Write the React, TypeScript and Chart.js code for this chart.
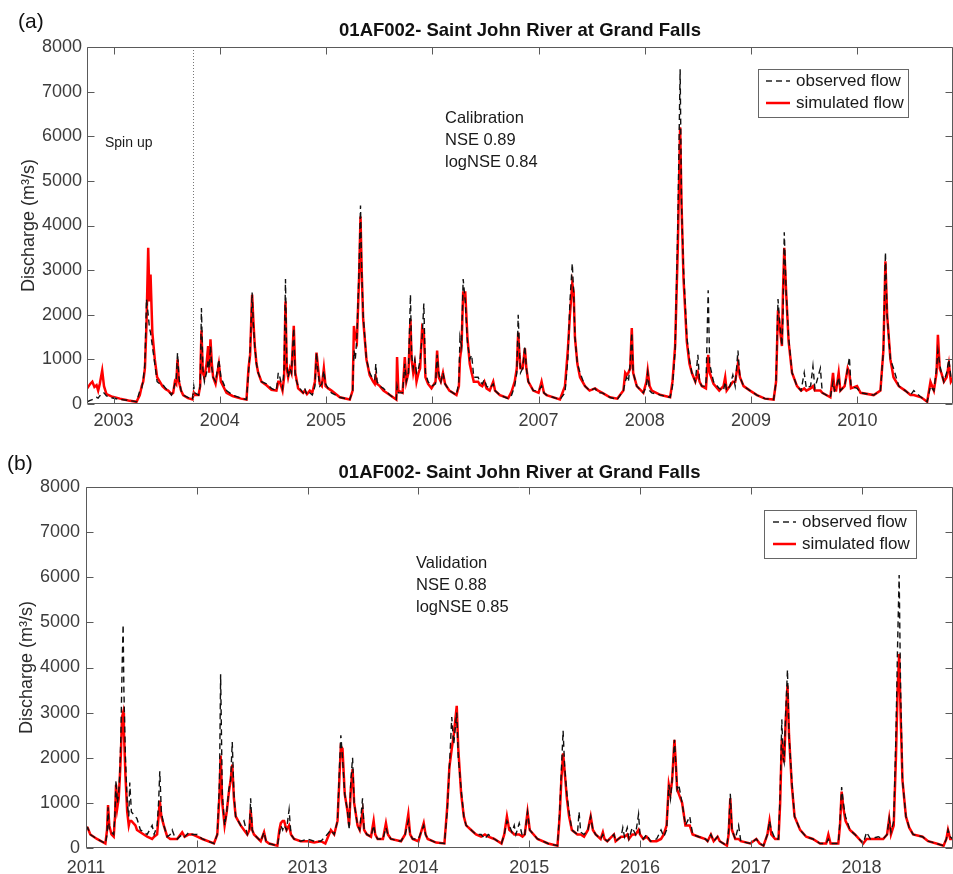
import React, { useEffect, useRef } from 'react';
import { Chart, registerables } from 'chart.js';

Chart.register(...registerables);

const FONT = "'Liberation Sans', Arial, Helvetica, sans-serif";
const AXIS_COLOR = '#5a5a5a';
const TICK_TEXT = '#3c3c3c';

// ---------------- (a) calibration period ----------------
const T_CAL = [
  2002.752, 2002.78, 2002.80, 2002.82, 2002.84, 2002.855, 2002.87, 2002.893, 2002.91, 2002.933,
  2002.98, 2003.06, 2003.14, 2003.216, 2003.247, 2003.265, 2003.279, 2003.295, 2003.31, 2003.326,
  2003.338, 2003.348, 2003.365, 2003.388, 2003.41, 2003.435, 2003.46, 2003.49, 2003.514, 2003.545,
  2003.561, 2003.577, 2003.59, 2003.602, 2003.615, 2003.635, 2003.655, 2003.70, 2003.743, 2003.755,
  2003.765, 2003.80, 2003.815, 2003.827, 2003.84, 2003.855, 2003.875, 2003.89, 2003.90, 2003.912,
  2003.925, 2003.937, 2003.96, 2003.991, 2004.01, 2004.063, 2004.12, 2004.20, 2004.251, 2004.27,
  2004.285, 2004.304, 2004.315, 2004.329, 2004.345, 2004.361, 2004.392, 2004.439, 2004.486, 2004.533,
  2004.55, 2004.565, 2004.59, 2004.605, 2004.618, 2004.63, 2004.643, 2004.66, 2004.674, 2004.696,
  2004.71, 2004.737, 2004.784, 2004.80, 2004.82, 2004.847, 2004.87, 2004.895, 2004.91, 2004.925,
  2004.941, 2004.96, 2004.979, 2004.995, 2005.02, 2005.051, 2005.129, 2005.223, 2005.25, 2005.262,
  2005.275, 2005.29, 2005.31, 2005.324, 2005.335, 2005.349, 2005.38, 2005.41, 2005.443, 2005.458,
  2005.468, 2005.48, 2005.506, 2005.54, 2005.60, 2005.661, 2005.668, 2005.68, 2005.72, 2005.741,
  2005.755, 2005.775, 2005.794, 2005.805, 2005.82, 2005.835, 2005.851, 2005.87, 2005.885, 2005.904,
  2005.92, 2005.935, 2005.96, 2005.992, 2006.03, 2006.045, 2006.06, 2006.08, 2006.10, 2006.12,
  2006.16, 2006.227, 2006.25, 2006.26, 2006.275, 2006.29, 2006.31, 2006.33, 2006.352, 2006.37,
  2006.39, 2006.431, 2006.447, 2006.47, 2006.49, 2006.51, 2006.54, 2006.573, 2006.59, 2006.636,
  2006.714, 2006.746, 2006.775, 2006.795, 2006.808, 2006.82, 2006.83, 2006.85, 2006.871, 2006.885,
  2006.903, 2006.95, 2007.00, 2007.028, 2007.05, 2007.075, 2007.201, 2007.248, 2007.275, 2007.295,
  2007.317, 2007.33, 2007.342, 2007.365, 2007.39, 2007.437, 2007.48, 2007.531, 2007.56, 2007.60,
  2007.672, 2007.74, 2007.798, 2007.815, 2007.829, 2007.845, 2007.862, 2007.877, 2007.89, 2007.924,
  2007.986, 2008.015, 2008.027, 2008.045, 2008.065, 2008.15, 2008.238, 2008.26, 2008.285, 2008.31,
  2008.332, 2008.345, 2008.364, 2008.395, 2008.42, 2008.442, 2008.475, 2008.499, 2008.515, 2008.536,
  2008.575, 2008.596, 2008.61, 2008.646, 2008.70, 2008.74, 2008.756, 2008.77, 2008.80, 2008.828,
  2008.85, 2008.876, 2008.895, 2008.929, 2008.99, 2009.055, 2009.13, 2009.212, 2009.235, 2009.253,
  2009.27, 2009.29, 2009.30, 2009.312, 2009.33, 2009.353, 2009.385, 2009.432, 2009.47, 2009.50,
  2009.52, 2009.56, 2009.582, 2009.60, 2009.652, 2009.67, 2009.746, 2009.771, 2009.785, 2009.80,
  2009.824, 2009.84, 2009.88, 2009.909, 2009.925, 2009.94, 2009.997, 2010.03, 2010.154, 2010.217,
  2010.245, 2010.264, 2010.28, 2010.311, 2010.34, 2010.39, 2010.45, 2010.50, 2010.531, 2010.60,
  2010.657, 2010.688, 2010.72, 2010.745, 2010.758, 2010.775, 2010.79, 2010.814, 2010.84, 2010.861,
  2010.88, 2010.905,
];
const OBS_CAL = [
  50, 80, 100, 120, 150, 130, 180, 250, 250, 180,
  140, 100, 80, 50, 300, 350, 550, 900, 2350, 2000,
  1700, 1600, 1300, 900, 500, 450, 450, 350, 300, 200,
  300, 450, 550, 1150, 600, 300, 200, 150, 100, 400,
  250, 200, 400, 2150, 800, 500, 700, 1000, 800, 1300,
  800, 600, 500, 1000, 600, 300, 200, 130, 100, 700,
  1200, 2500, 1800, 1300, 900, 700, 500, 450, 350, 300,
  700, 600, 350, 800, 2800, 900, 600, 800, 700, 1700,
  600, 400, 250, 350, 200, 250, 200, 400, 1150, 700,
  400, 450, 750, 450, 350, 250, 150, 100, 300, 1200,
  1000, 1500, 3000, 4450, 3000, 2000, 1000, 700, 550, 550,
  900, 500, 400, 350, 200, 100, 400, 250, 250, 900,
  500, 700, 2450, 1100, 800, 1000, 700, 800, 1000, 1500,
  2250, 700, 500, 400, 450, 1100, 700, 500, 700, 450,
  300, 200, 500, 1500, 1300, 2800, 2300, 1400, 1000, 1100,
  600, 600, 500, 450, 550, 400, 350, 450, 300, 200,
  120, 200, 400, 700, 2000, 1200, 700, 800, 1300, 800,
  500, 300, 300, 400, 250, 200, 100, 250, 1000, 2300,
  3150, 2500, 1500, 900, 700, 400, 300, 350, 250, 250,
  150, 100, 300, 500, 600, 500, 900, 1600, 700, 400,
  250, 400, 700, 300, 250, 200, 150, 400, 1200, 4000,
  7500, 4500, 3000, 1500, 1000, 700, 500, 1100, 500, 400,
  400, 2550, 900, 500, 350, 300, 500, 300, 400, 650,
  400, 1200, 600, 400, 300, 200, 120, 100, 500, 2350,
  1800, 1300, 2000, 3850, 2500, 1500, 700, 400, 300, 700,
  350, 400, 850, 350, 800, 250, 150, 500, 300, 350,
  600, 300, 400, 800, 1050, 400, 350, 250, 200, 300,
  1200, 3400, 2000, 1000, 800, 400, 300, 200, 300, 150,
  50, 400, 300, 800, 1200, 900, 700, 500, 700, 1000,
  600, 600,
];
const SIM_CAL = [
  350, 450, 500, 380, 420, 300, 450, 750, 400, 220,
  170, 120, 80, 50, 200, 400, 500, 800, 1800, 3500,
  2300, 2900, 1600, 1000, 600, 500, 400, 330, 300, 220,
  250, 500, 450, 1000, 500, 300, 200, 130, 100, 250,
  200, 200, 400, 1650, 700, 600, 900, 1300, 700, 1450,
  900, 600, 450, 900, 500, 250, 180, 120, 100, 800,
  1100, 2450, 1900, 1300, 900, 700, 500, 420, 320, 300,
  500, 500, 300, 600, 2300, 800, 600, 800, 700, 1750,
  700, 350, 250, 300, 220, 300, 250, 500, 1150, 800,
  450, 400, 800, 400, 350, 300, 150, 100, 300, 1750,
  1500, 1400, 2800, 4200, 3000, 1900, 1000, 650, 500, 450,
  600, 450, 400, 300, 200, 100, 1050, 300, 250, 1050,
  500, 700, 1900, 1000, 700, 900, 500, 700, 800, 1700,
  1600, 600, 450, 350, 500, 1200, 600, 500, 700, 450,
  300, 200, 400, 1000, 1300, 2500, 2500, 1500, 900, 700,
  500, 500, 430, 400, 500, 350, 300, 500, 300, 200,
  130, 280, 500, 800, 1600, 1100, 800, 800, 1250, 800,
  500, 300, 250, 500, 250, 200, 100, 400, 1200, 2000,
  2700, 2500, 1500, 900, 600, 400, 300, 350, 300, 250,
  150, 120, 300, 700, 650, 700, 800, 1700, 700, 400,
  250, 500, 750, 400, 300, 200, 150, 500, 1300, 3500,
  6200, 4500, 2800, 1400, 900, 700, 500, 700, 500, 400,
  350, 1100, 700, 450, 300, 400, 600, 300, 400, 500,
  500, 900, 600, 400, 300, 200, 120, 100, 500, 2100,
  1700, 1300, 2500, 3500, 2500, 1400, 700, 400, 300, 350,
  300, 350, 400, 300, 300, 250, 150, 700, 300, 300,
  700, 300, 400, 800, 700, 350, 400, 250, 200, 300,
  1200, 3200, 2000, 1000, 600, 400, 300, 200, 200, 150,
  50, 500, 300, 700, 1550, 800, 700, 500, 600, 900,
  500, 600,
];

// ---------------- (b) validation period ----------------
const T_VAL = [
  2011.000, 2011.015, 2011.039, 2011.099, 2011.175, 2011.19, 2011.199, 2011.21, 2011.230, 2011.250,
  2011.262, 2011.271, 2011.283, 2011.295, 2011.304, 2011.315, 2011.325, 2011.335, 2011.342, 2011.356,
  2011.372, 2011.386, 2011.395, 2011.41, 2011.446, 2011.46, 2011.491, 2011.552, 2011.597, 2011.615,
  2011.642, 2011.655, 2011.666, 2011.68, 2011.702, 2011.733, 2011.760, 2011.778, 2011.80, 2011.823,
  2011.868, 2011.89, 2011.929, 2011.96, 2012.004, 2012.05, 2012.155, 2012.185, 2012.205, 2012.215,
  2012.23, 2012.251, 2012.27, 2012.290, 2012.305, 2012.320, 2012.335, 2012.351, 2012.396, 2012.426,
  2012.456, 2012.475, 2012.486, 2012.50, 2012.516, 2012.577, 2012.607, 2012.625, 2012.652, 2012.727,
  2012.745, 2012.758, 2012.775, 2012.788, 2012.81, 2012.833, 2012.85, 2012.878, 2012.938, 2013.00,
  2013.06, 2013.119, 2013.16, 2013.210, 2013.240, 2013.27, 2013.288, 2013.300, 2013.315, 2013.335,
  2013.361, 2013.375, 2013.39, 2013.406, 2013.42, 2013.451, 2013.47, 2013.496, 2013.51, 2013.535,
  2013.572, 2013.596, 2013.61, 2013.632, 2013.68, 2013.707, 2013.725, 2013.752, 2013.843, 2013.88,
  2013.909, 2013.925, 2013.948, 2014.00, 2014.048, 2014.065, 2014.084, 2014.16, 2014.235, 2014.26,
  2014.280, 2014.301, 2014.319, 2014.346, 2014.36, 2014.386, 2014.41, 2014.431, 2014.476, 2014.52,
  2014.566, 2014.60, 2014.63, 2014.685, 2014.75, 2014.775, 2014.799, 2014.82, 2014.845, 2014.865,
  2014.88, 2014.910, 2014.94, 2014.96, 2014.985, 2015.005, 2015.04, 2015.075, 2015.17, 2015.255,
  2015.275, 2015.290, 2015.306, 2015.32, 2015.340, 2015.360, 2015.385, 2015.435, 2015.450, 2015.465,
  2015.495, 2015.53, 2015.555, 2015.575, 2015.60, 2015.645, 2015.665, 2015.68, 2015.705, 2015.765,
  2015.78, 2015.83, 2015.845, 2015.86, 2015.885, 2015.90, 2015.93, 2015.96, 2015.987, 2016.00,
  2016.03, 2016.06, 2016.095, 2016.15, 2016.19, 2016.215, 2016.24, 2016.260, 2016.275, 2016.290,
  2016.311, 2016.325, 2016.335, 2016.35, 2016.380, 2016.41, 2016.449, 2016.475, 2016.530, 2016.59,
  2016.61, 2016.64, 2016.665, 2016.70, 2016.72, 2016.785, 2016.800, 2016.815, 2016.83, 2016.86,
  2016.890, 2016.91, 2016.995, 2017.05, 2017.08, 2017.115, 2017.150, 2017.169, 2017.185, 2017.22,
  2017.250, 2017.265, 2017.280, 2017.292, 2017.301, 2017.315, 2017.331, 2017.345, 2017.370, 2017.395,
  2017.445, 2017.50, 2017.56, 2017.625, 2017.68, 2017.700, 2017.72, 2017.790, 2017.805, 2017.820,
  2017.835, 2017.855, 2017.895, 2017.94, 2018.015, 2018.045, 2018.08, 2018.15, 2018.195, 2018.23,
  2018.249, 2018.265, 2018.29, 2018.31, 2018.325, 2018.339, 2018.352, 2018.369, 2018.40, 2018.43,
  2018.465, 2018.55, 2018.60, 2018.675, 2018.74, 2018.765, 2018.780, 2018.80, 2018.822,
];
const OBS_VAL = [
  400, 450, 300, 200, 100, 300, 900, 400, 350, 300,
  800, 1500, 1000, 1200, 1600, 2500, 3900, 4950, 3500, 2000,
  1000, 700, 1450, 800, 700, 650, 400, 300, 500, 300,
  500, 1000, 1700, 800, 500, 250, 300, 400, 250, 200,
  300, 250, 350, 300, 300, 200, 100, 300, 1500, 3850,
  1200, 500, 800, 1300, 1500, 2350, 1200, 700, 500, 600,
  300, 400, 1100, 400, 300, 150, 350, 150, 100, 50,
  300, 500, 400, 500, 400, 850, 300, 200, 150, 200,
  150, 150, 250, 400, 300, 600, 1800, 2500, 2000, 1200,
  800, 400, 1500, 2000, 1000, 500, 400, 1100, 400, 300,
  250, 500, 300, 200, 200, 450, 300, 200, 150, 300,
  600, 300, 200, 200, 500, 300, 200, 120, 100, 800,
  1800, 2900, 2300, 3000, 2000, 1300, 700, 500, 400, 300,
  300, 200, 300, 200, 100, 300, 600, 500, 350, 500,
  300, 550, 250, 300, 800, 400, 300, 200, 100, 50,
  800, 1700, 2600, 1800, 1200, 800, 400, 300, 800, 350,
  300, 400, 700, 400, 300, 200, 300, 200, 150, 300,
  150, 250, 450, 250, 450, 200, 450, 300, 750, 300,
  200, 300, 150, 200, 400, 250, 400, 1400, 1100, 1500,
  2400, 1800, 1300, 1400, 1000, 500, 700, 300, 250, 200,
  150, 300, 150, 250, 150, 50, 400, 1200, 400, 200,
  500, 150, 100, 200, 100, 50, 300, 600, 400, 200,
  200, 1200, 2850, 2000, 1900, 3000, 3950, 2500, 1500, 700,
  400, 250, 200, 100, 100, 200, 100, 100, 600, 1350,
  1000, 700, 400, 300, 100, 350, 200, 250, 200, 300,
  650, 350, 600, 2500, 4500, 6050, 3500, 1500, 700, 450,
  300, 250, 150, 100, 50, 200, 400, 250, 200,
];
const SIM_VAL = [
  450, 450, 300, 200, 100, 400, 950, 500, 300, 250,
  700, 1400, 900, 1100, 1500, 2100, 2900, 3000, 2600, 1600,
  800, 500, 600, 600, 500, 400, 350, 250, 200, 250,
  300, 700, 1050, 700, 500, 250, 200, 200, 200, 200,
  350, 250, 300, 300, 250, 200, 100, 300, 1200, 2050,
  1000, 500, 800, 1250, 1500, 1850, 1100, 700, 500, 400,
  300, 400, 850, 400, 300, 150, 350, 150, 100, 50,
  400, 550, 600, 600, 400, 500, 300, 200, 150, 150,
  120, 150, 100, 400, 300, 600, 1600, 2250, 2200, 1200,
  800, 500, 1300, 1750, 1000, 500, 400, 800, 400, 300,
  250, 600, 300, 200, 200, 550, 300, 200, 150, 300,
  750, 300, 200, 150, 550, 300, 200, 120, 100, 900,
  1800, 2200, 2500, 3150, 2200, 1200, 700, 500, 400, 300,
  250, 300, 250, 200, 100, 300, 700, 400, 350, 300,
  300, 300, 250, 300, 800, 400, 300, 200, 100, 50,
  700, 1500, 2100, 1700, 1100, 700, 400, 300, 300, 300,
  250, 400, 700, 400, 300, 200, 350, 200, 150, 300,
  150, 250, 250, 250, 300, 200, 300, 300, 400, 300,
  200, 250, 150, 150, 200, 300, 500, 1400, 1200, 1500,
  2400, 1800, 1300, 1200, 1000, 500, 500, 300, 250, 200,
  150, 300, 150, 250, 150, 50, 300, 1100, 400, 200,
  200, 150, 100, 200, 100, 50, 300, 600, 300, 200,
  200, 1000, 2400, 2100, 1900, 2800, 3600, 2500, 1400, 700,
  400, 250, 200, 100, 100, 300, 100, 100, 500, 1250,
  900, 600, 400, 300, 100, 200, 200, 200, 200, 300,
  650, 300, 500, 2000, 3500, 4300, 3000, 1500, 700, 450,
  300, 250, 150, 100, 50, 200, 400, 200, 200,
];

// ---------------- axes ----------------
const YEARS_CAL = [2003, 2004, 2005, 2006, 2007, 2008, 2009, 2010];
const YEARS_VAL = [2011, 2012, 2013, 2014, 2015, 2016, 2017, 2018];
const Y_TICKS = [0, 1000, 2000, 3000, 4000, 5000, 6000, 7000, 8000];
const SPIN_UP_END = 2003.75;

const TITLE = '01AF002- Saint John River at Grand Falls';
const LEGEND_LABELS = ['observed flow', 'simulated flow'];
const Y_LABEL = 'Discharge (m³/s)';

type PanelSpec = {
  tag: string;
  tagX: number;
  tagY: number;
  titleY: number;
  t: number[];
  obs: number[];
  sim: number[];
  years: number[];
  xMin: number;
  xMax: number;
  padTop: number;
  yAxisWidth: number;
  xAxisHeight: number;
  xTickPad: number;
  yTickPad: number;
  yTitlePad: number;
  stats: string[];
  statsX: number;
  statsY: number;
  legend: { x0: number; x1: number; y0: number; y1: number; lineX0: number; lineX1: number; textX: number; rowY: number[] };
  spinUp: boolean;
};

const PANEL_A: PanelSpec = {
  tag: '(a)', tagX: 18, tagY: 22, titleY: 31,
  t: T_CAL, obs: OBS_CAL, sim: SIM_CAL, years: YEARS_CAL,
  xMin: 2002.75, xMax: 2010.9,
  padTop: 47, yAxisWidth: 87, xAxisHeight: 33, xTickPad: 6, yTickPad: 5, yTitlePad: 18,
  stats: ['Calibration', 'NSE 0.89', 'logNSE 0.84'], statsX: 445, statsY: 118,
  legend: { x0: 758, x1: 908, y0: 69, y1: 117, lineX0: 766, lineX1: 790, textX: 796, rowY: [81, 103] },
  spinUp: true,
};

const PANEL_B: PanelSpec = {
  tag: '(b)', tagX: 7, tagY: 27, titleY: 36,
  t: T_VAL, obs: OBS_VAL, sim: SIM_VAL, years: YEARS_VAL,
  xMin: 2011, xMax: 2018.825,
  padTop: 50, yAxisWidth: 86, xAxisHeight: 26, xTickPad: 9, yTickPad: 6, yTitlePad: 16,
  stats: ['Validation', 'NSE 0.88', 'logNSE 0.85'], statsX: 416, statsY: 126,
  legend: { x0: 764, x1: 916, y0: 73, y1: 121, lineX0: 773, lineX1: 796, textX: 802, rowY: [85, 107] },
  spinUp: false,
};

function makeDecor(p: PanelSpec) {
  return {
    id: 'decor' + p.tag,
    afterDraw(chart: any) {
      const { ctx, chartArea: a, scales } = chart;
      const xs = scales.x;
      const ys = scales.y;
      ctx.save();

      // spin-up separator
      if (p.spinUp) {
        const sx = Math.round(xs.getPixelForValue(SPIN_UP_END)) + 0.5;
        ctx.strokeStyle = '#777';
        ctx.lineWidth = 1;
        ctx.setLineDash([1, 2]);
        ctx.beginPath();
        ctx.moveTo(sx, a.top);
        ctx.lineTo(sx, a.bottom);
        ctx.stroke();
        ctx.setLineDash([]);
      }

      // frame and inward ticks
      ctx.strokeStyle = AXIS_COLOR;
      ctx.lineWidth = 1;
      const L = Math.round(a.left) + 0.5;
      const R = Math.round(a.right) - 0.5;
      const T = Math.round(a.top) + 0.5;
      const B = Math.round(a.bottom) - 0.5;
      ctx.beginPath();
      ctx.moveTo(L, T); ctx.lineTo(R, T); ctx.lineTo(R, B); ctx.lineTo(L, B); ctx.closePath();
      ctx.stroke();
      const tl = 7;
      ctx.beginPath();
      for (const yr of p.years) {
        const px = Math.round(xs.getPixelForValue(yr)) + 0.5;
        ctx.moveTo(px, B); ctx.lineTo(px, B - tl);
        ctx.moveTo(px, T); ctx.lineTo(px, T + tl);
      }
      for (const v of Y_TICKS) {
        const py = Math.round(ys.getPixelForValue(v)) + 0.5;
        ctx.moveTo(L, py); ctx.lineTo(L + tl, py);
        ctx.moveTo(R, py); ctx.lineTo(R - tl, py);
      }
      ctx.stroke();

      // panel tag and title
      ctx.fillStyle = '#111';
      ctx.textBaseline = 'middle';
      ctx.textAlign = 'left';
      ctx.font = `21px ${FONT}`;
      ctx.fillText(p.tag, p.tagX, p.tagY);
      ctx.font = `bold 18.5px ${FONT}`;
      ctx.textAlign = 'center';
      ctx.fillText(TITLE, (a.left + a.right) / 2, p.titleY);

      // statistics annotation
      ctx.textAlign = 'left';
      ctx.fillStyle = '#1a1a1a';
      ctx.font = `16.5px ${FONT}`;
      p.stats.forEach((s, i) => ctx.fillText(s, p.statsX, p.statsY + i * 22));
      if (p.spinUp) {
        ctx.font = `14px ${FONT}`;
        ctx.fillText('Spin up', 105, 143);
      }

      // legend
      const lg = p.legend;
      ctx.fillStyle = '#fff';
      ctx.fillRect(lg.x0, lg.y0, lg.x1 - lg.x0, lg.y1 - lg.y0);
      ctx.strokeStyle = '#666';
      ctx.lineWidth = 1;
      ctx.strokeRect(lg.x0 + 0.5, lg.y0 + 0.5, lg.x1 - lg.x0, lg.y1 - lg.y0);
      ctx.strokeStyle = '#222';
      ctx.lineWidth = 1.4;
      ctx.setLineDash([6, 4]);
      ctx.beginPath();
      ctx.moveTo(lg.lineX0, lg.rowY[0]);
      ctx.lineTo(lg.lineX1, lg.rowY[0]);
      ctx.stroke();
      ctx.setLineDash([]);
      ctx.strokeStyle = '#ff0000';
      ctx.lineWidth = 2.5;
      ctx.beginPath();
      ctx.moveTo(lg.lineX0, lg.rowY[1]);
      ctx.lineTo(lg.lineX1, lg.rowY[1]);
      ctx.stroke();
      ctx.fillStyle = '#1a1a1a';
      ctx.font = `17px ${FONT}`;
      ctx.fillText(LEGEND_LABELS[0], lg.textX, lg.rowY[0]);
      ctx.fillText(LEGEND_LABELS[1], lg.textX, lg.rowY[1]);

      ctx.restore();
    },
  };
}

function Panel({ spec, top }: { spec: PanelSpec; top: number }) {
  const ref = useRef<HTMLCanvasElement>(null);
  useEffect(() => {
    const canvas = ref.current;
    if (!canvas) return;
    const p = spec;
    const chart = new Chart(canvas, {
      type: 'line',
      data: {
        datasets: [
          {
            label: LEGEND_LABELS[0],
            data: p.t.map((t, i) => ({ x: t, y: p.obs[i] })),
            borderColor: '#111',
            borderWidth: 1.4,
            borderDash: [6, 4],
            pointRadius: 0,
            tension: 0,
            fill: false,
          },
          {
            label: LEGEND_LABELS[1],
            data: p.t.map((t, i) => ({ x: t, y: p.sim[i] })),
            borderColor: '#ff0000',
            borderWidth: 2.5,
            pointRadius: 0,
            tension: 0,
            fill: false,
          },
        ],
      },
      options: {
        responsive: false,
        animation: false,
        devicePixelRatio: 1,
        layout: { padding: { top: p.padTop, left: 0, right: 0, bottom: 0 } },
        plugins: {
          legend: { display: false },
          title: { display: false },
          tooltip: { enabled: false },
        },
        events: [],
        scales: {
          x: {
            type: 'linear',
            min: p.xMin,
            max: p.xMax,
            grid: { display: false, drawTicks: false },
            border: { display: false },
            afterBuildTicks: (s: any) => {
              s.ticks = p.years.map((v) => ({ value: v }));
            },
            afterFit: (s: any) => {
              s.height = p.xAxisHeight;
            },
            ticks: {
              autoSkip: false,
              maxRotation: 0,
              padding: p.xTickPad,
              color: TICK_TEXT,
              font: { family: FONT, size: 18 },
              callback: (v: any) => String(v),
            },
          },
          y: {
            type: 'linear',
            min: 0,
            max: 8000,
            grid: { display: false, drawTicks: false },
            border: { display: false },
            afterBuildTicks: (s: any) => {
              s.ticks = Y_TICKS.map((v) => ({ value: v }));
            },
            afterFit: (s: any) => {
              s.width = p.yAxisWidth;
            },
            ticks: {
              padding: p.yTickPad,
              color: TICK_TEXT,
              font: { family: FONT, size: 18 },
              callback: (v: any) => String(v),
            },
            title: {
              display: true,
              text: Y_LABEL,
              color: '#2a2a2a',
              font: { family: FONT, size: 18 },
              padding: { top: p.yTitlePad, bottom: 0 },
            },
          },
        },
      },
      plugins: [makeDecor(p)],
    } as any);
    return () => chart.destroy();
  }, [spec]);
  return (
    <canvas
      ref={ref}
      width={953}
      height={437}
      style={{ position: 'absolute', left: 0, top, width: 953, height: 437, display: 'block' }}
    />
  );
}

export default function App() {
  return (
    <div style={{ position: 'absolute', left: 0, top: 0, width: 953, height: 874, background: '#fff', overflow: 'hidden' }}>
      <Panel spec={PANEL_A} top={0} />
      <Panel spec={PANEL_B} top={437} />
    </div>
  );
}
